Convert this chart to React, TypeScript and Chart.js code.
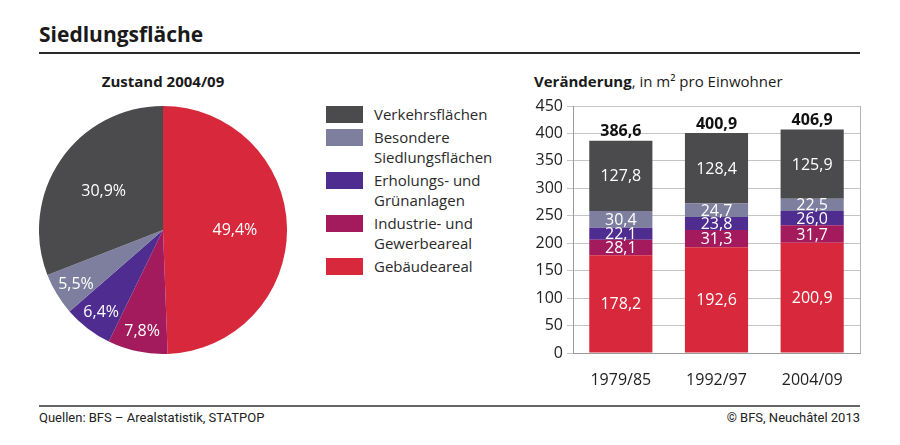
import React, { useEffect, useRef } from "react";
import { Chart, registerables } from "chart.js";

Chart.register(...registerables);

// ---------- data ----------
const categories = [
  "Verkehrsflächen",
  "Besondere Siedlungsflächen",
  "Erholungs- und Grünanlagen",
  "Industrie- und Gewerbeareal",
  "Gebäudeareal",
];
const legendLines = [
  ["Verkehrsflächen"],
  ["Besondere", "Siedlungsflächen"],
  ["Erholungs- und", "Grünanlagen"],
  ["Industrie- und", "Gewerbeareal"],
  ["Gebäudeareal"],
];
const colors = ["#4b4b4d", "#7e7f9f", "#4f2c8f", "#a31b5c", "#d8283b"];
const pieShares = [30.9, 5.5, 6.4, 7.8, 49.4];

const periods = ["1979/85", "1992/97", "2004/09"];
const verkehr = [127.8, 128.4, 125.9];
const besondere = [30.4, 24.7, 22.5];
const erholung = [22.1, 23.8, 26.0];
const industrie = [28.1, 31.3, 31.7];
const gebaeude = [178.2, 192.6, 200.9];
const totals = [386.6, 400.9, 406.9];
const yTicks = [0, 50, 100, 150, 200, 250, 300, 350, 400, 450];

const FONT = "'Open Sans', 'Noto Sans', sans-serif";
const fmt = (v: number) => v.toFixed(1).replace(".", ",");

export default function App() {
  const pieRef = useRef<HTMLCanvasElement | null>(null);
  const barRef = useRef<HTMLCanvasElement | null>(null);

  useEffect(() => {
    // pie: starts at top, clockwise, Gebäudeareal first
    const pieOrder = [4, 3, 2, 1, 0];
    const pieLabelPlugin = {
      id: "pieLabels",
      afterDatasetsDraw(chart: any) {
        const ctx = chart.ctx;
        const meta = chart.getDatasetMeta(0);
        ctx.save();
        ctx.fillStyle = "#ffffff";
        ctx.font = `16px ${FONT}`;
        ctx.textAlign = "center";
        ctx.textBaseline = "middle";
        meta.data.forEach((arc: any, i: number) => {
          const p = arc.getProps(["x", "y", "startAngle", "endAngle", "outerRadius"], true);
          const mid = (p.startAngle + p.endAngle) / 2;
          const share = chart.data.datasets[0].data[i];
          const frac = share < 10 ? 0.82 : 0.58;
          const x = p.x + Math.cos(mid) * p.outerRadius * frac;
          const y = p.y + Math.sin(mid) * p.outerRadius * frac + 2;
          ctx.fillText(fmt(share) + "%", x, y);
        });
        ctx.restore();
      },
    };

    const pie = new Chart(pieRef.current as HTMLCanvasElement, {
      type: "pie",
      data: {
        labels: pieOrder.map((i) => categories[i]),
        datasets: [
          {
            data: pieOrder.map((i) => pieShares[i]),
            backgroundColor: pieOrder.map((i) => colors[i]),
            borderWidth: 0,
            hoverOffset: 0,
          },
        ],
      },
      options: {
        responsive: false,
        animation: false,
        events: [],
        layout: { padding: 0 },
        plugins: { legend: { display: false }, tooltip: { enabled: false } },
      },
      plugins: [pieLabelPlugin],
    });

    const barSeries = [gebaeude, industrie, erholung, besondere, verkehr];
    const barColorIdx = [4, 3, 2, 1, 0];

    const barLabelPlugin = {
      id: "barLabels",
      beforeDatasetsDraw(chart: any) {
        const { ctx, chartArea } = chart;
        ctx.save();
        ctx.strokeStyle = "#b4b4b4";
        ctx.lineWidth = 1;
        ctx.beginPath();
        ctx.moveTo(Math.round(chartArea.right) + 0.5, chartArea.top);
        ctx.lineTo(Math.round(chartArea.right) + 0.5, chartArea.bottom);
        ctx.stroke();
        ctx.restore();
      },
      afterDatasetsDraw(chart: any) {
        const ctx = chart.ctx;
        ctx.save();
        ctx.textAlign = "center";
        ctx.textBaseline = "middle";
        ctx.fillStyle = "#ffffff";
        ctx.font = `16px ${FONT}`;
        chart.data.datasets.forEach((ds: any, di: number) => {
          const meta = chart.getDatasetMeta(di);
          meta.data.forEach((bar: any, i: number) => {
            const p = bar.getProps(["x", "y", "base"], true);
            ctx.fillText(fmt(ds.data[i]), p.x, (p.y + p.base) / 2 + 1);
          });
        });
        const last = chart.getDatasetMeta(chart.data.datasets.length - 1);
        ctx.fillStyle = "#111111";
        ctx.font = `bold 16px ${FONT}`;
        ctx.textBaseline = "bottom";
        last.data.forEach((bar: any, i: number) => {
          const p = bar.getProps(["x", "y"], true);
          ctx.fillText(fmt(totals[i]), p.x, p.y - 1);
        });
        ctx.restore();
      },
    };

    const bar = new Chart(barRef.current as HTMLCanvasElement, {
      type: "bar",
      data: {
        labels: periods,
        datasets: barSeries.map((s, k) => ({
          label: categories[barColorIdx[k]],
          data: s,
          backgroundColor: colors[barColorIdx[k]],
          borderWidth: 0,
          categoryPercentage: 1,
          barPercentage: 0.66,
        })),
      },
      options: {
        responsive: false,
        animation: false,
        events: [],
        layout: { padding: { top: 16, right: 10, left: 0, bottom: 0 } },
        plugins: { legend: { display: false }, tooltip: { enabled: false } },
        scales: {
          x: {
            stacked: true,
            grid: { display: false },
            border: { display: true, color: "#9a9a9a", width: 1 },
            ticks: { color: "#222", font: { family: FONT, size: 16 }, padding: 10 },
            afterFit(scale: any) {
              scale.height = 47;
            },
          },
          y: {
            stacked: true,
            min: 0,
            max: 450,
            afterBuildTicks(scale: any) {
              scale.ticks = yTicks.map((v) => ({ value: v }));
            },
            grid: { color: "#c4c4c4", lineWidth: 1, tickLength: 6, drawTicks: true },
            border: { display: true, color: "#9a9a9a", width: 1 },
            ticks: { color: "#222", font: { family: FONT, size: 16 }, padding: 4 },
            afterFit(scale: any) {
              scale.width = 53;
            },
          },
        },
      },
      plugins: [barLabelPlugin],
    });

    return () => {
      pie.destroy();
      bar.destroy();
    };
  }, []);

  const txt: React.CSSProperties = { position: "absolute", fontFamily: FONT, color: "#1a1a1a", whiteSpace: "nowrap" };

  return (
    <div style={{ position: "absolute", left: 0, top: 0, width: 900, height: 445, background: "#fff", overflow: "hidden" }}>
      <div style={{ ...txt, left: 39, top: 20, fontSize: 21, fontWeight: 700, lineHeight: "28px" }}>Siedlungsfläche</div>
      <div style={{ position: "absolute", left: 39, top: 52, width: 821, height: 2, background: "#2a2a2a" }} />

      <div style={{ ...txt, left: 63, width: 200, textAlign: "center", top: 70, fontSize: 15, fontWeight: 700, lineHeight: "22px" }}>
        Zustand 2004/09
      </div>
      <canvas ref={pieRef} width={248} height={248} style={{ position: "absolute", left: 39, top: 106 }} />

      {legendLines.map((lines, i) => {
        const tops = [106, 129, 172, 215, 258];
        return (
          <div key={i}>
            <div style={{ position: "absolute", left: 326, top: tops[i], width: 37, height: 17, background: colors[i] }} />
            <div style={{ ...txt, left: 374, top: tops[i] - 2, fontSize: 15, lineHeight: "20px", color: "#2a2a2a" }}>
              {lines.map((l, j) => (
                <div key={j}>{l}</div>
              ))}
            </div>
          </div>
        );
      })}

      <div style={{ ...txt, left: 534, top: 70, fontSize: 15, lineHeight: "22px" }}>
        <b>Veränderung</b>, in m² pro Einwohner
      </div>
      <canvas ref={barRef} width={350} height={310} style={{ position: "absolute", left: 520, top: 90 }} />

      <div style={{ position: "absolute", left: 39, top: 405, width: 821, height: 2, background: "#666" }} />
      <div style={{ ...txt, left: 39, top: 409, fontSize: 13, lineHeight: "18px", fontFamily: "'Liberation Sans Narrow', 'Roboto', sans-serif", color: "#222" }}>
        Quellen: BFS – Arealstatistik, STATPOP
      </div>
      <div style={{ ...txt, right: 40, top: 409, fontSize: 13, lineHeight: "18px", fontFamily: "'Liberation Sans Narrow', 'Roboto', sans-serif", color: "#222" }}>
        © BFS, Neuchâtel 2013
      </div>
    </div>
  );
}
